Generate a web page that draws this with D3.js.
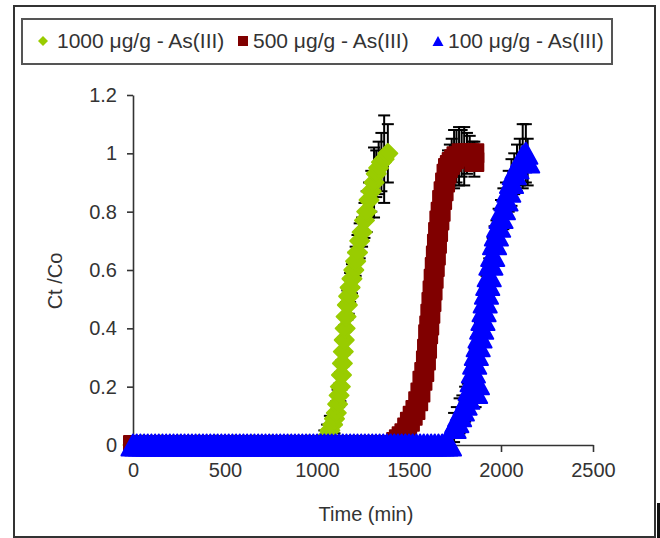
<!DOCTYPE html>
<html>
<head>
<meta charset="utf-8">
<script src="https://cdn.jsdelivr.net/npm/d3@7"></script>
<style>
  html, body { margin: 0; padding: 0; background: #fff; }
  svg { display: block; }
  text { font-family: "Liberation Sans", Arial, sans-serif; fill: #333; }
</style>
</head>
<body>
<svg id="chart" width="660" height="538"></svg>
<script>
// Axis ticks
const xTicks = [0, 500, 1000, 1500, 2000, 2500];
const yTicks = [0, 0.2, 0.4, 0.6, 0.8, 1, 1.2];
const yTickLabels = ["0", "0.2", "0.4", "0.6", "0.8", "1", "1.2"];

// Series labels and colours
const seriesNames = ["1000 μg/g - As(III)", "500 μg/g - As(III)", "100 μg/g - As(III)"];
const seriesColors = ["#99cc00", "#800000", "#0000ff"];

// 1000 µg/g breakthrough: time (min), Ct/Co, error
const time1000 = [0, 50, 100, 150, 200, 250, 300, 350, 400, 450, 500, 550, 600, 650, 700, 750, 800, 850, 900, 950, 1000,
  1040, 1055, 1070, 1085, 1095, 1105, 1112, 1120, 1127, 1133, 1138, 1143, 1148, 1153, 1158, 1165, 1172, 1180, 1190, 1200,
  1210, 1220, 1232, 1245, 1258, 1270, 1283, 1295, 1310, 1322, 1335, 1350, 1365, 1385];
const ctco1000 = [0, 0, 0, 0, 0, 0, 0, 0, 0, 0, 0, 0, 0, 0, 0, 0, 0, 0, 0, 0, 0,
  0.01, 0.03, 0.05, 0.07, 0.09, 0.11, 0.14, 0.17, 0.20, 0.24, 0.28, 0.32, 0.36, 0.40, 0.44, 0.48, 0.51, 0.54, 0.57, 0.60,
  0.63, 0.66, 0.70, 0.73, 0.77, 0.80, 0.84, 0.87, 0.90, 0.93, 0.95, 0.97, 0.98, 1.00];
const err1000 = [0, 0, 0, 0, 0, 0, 0, 0, 0, 0, 0, 0, 0, 0, 0, 0, 0, 0, 0, 0, 0,
  0.04, 0.04, 0.05, 0.04, 0.05, 0.04, 0.05, 0.04, 0.05, 0.05, 0.04, 0.05, 0.05, 0.04, 0.05, 0.05, 0.06, 0.05, 0.05, 0.06,
  0.05, 0.06, 0.06, 0.05, 0.06, 0.07, 0.06, 0.07, 0.12, 0.08, 0.09, 0.10, 0.15, 0.10];

// 500 µg/g breakthrough
const time500 = [0, 50, 100, 150, 200, 250, 300, 350, 400, 450, 500, 550, 600, 650, 700, 750, 800, 850, 900, 950, 1000,
  1050, 1100, 1150, 1200, 1250, 1300, 1350, 1400,
  1430, 1445, 1460, 1475, 1490, 1505, 1520, 1535, 1550, 1562, 1573, 1583, 1592, 1598, 1604, 1610, 1616, 1622, 1628, 1634,
  1640, 1646, 1652, 1658, 1665, 1672, 1680, 1688, 1696, 1704, 1712, 1722, 1732, 1745, 1758, 1772, 1786, 1800, 1815, 1830,
  1845, 1855, 1855];
const ctco500 = [0, 0, 0, 0, 0, 0, 0, 0, 0, 0, 0, 0, 0, 0, 0, 0, 0, 0, 0, 0, 0,
  0, 0, 0, 0, 0, 0, 0, 0,
  0.01, 0.02, 0.03, 0.04, 0.06, 0.08, 0.10, 0.12, 0.15, 0.18, 0.22, 0.25, 0.29, 0.33, 0.38, 0.41, 0.45, 0.49, 0.53, 0.57,
  0.61, 0.65, 0.69, 0.73, 0.77, 0.80, 0.84, 0.87, 0.90, 0.93, 0.95, 0.96, 0.97, 0.98, 0.99, 0.99, 1.00, 0.99, 1.00, 1.00,
  0.99, 0.97, 1.00];
const err500 = [0, 0, 0, 0, 0, 0, 0, 0, 0, 0, 0, 0, 0, 0, 0, 0, 0, 0, 0, 0, 0,
  0, 0, 0, 0, 0, 0, 0, 0,
  0.02, 0.02, 0.03, 0.03, 0.03, 0.03, 0.03, 0.03, 0.03, 0.03, 0.03, 0.03, 0.03, 0.03, 0.03, 0.03, 0.03, 0.03, 0.03, 0.03,
  0.03, 0.03, 0.03, 0.03, 0.03, 0.04, 0.04, 0.04, 0.05, 0.05, 0.06, 0.07, 0.08, 0.10, 0.09, 0.10, 0.08, 0.10, 0.07, 0.06,
  0.05, 0.05, 0.04];

// 100 µg/g breakthrough
const time100 = [0, 20, 40, 60, 80, 100, 120, 140, 160, 180,
  200, 220, 240, 260, 280, 300, 320, 340, 360, 380,
  400, 420, 440, 460, 480, 500, 520, 540, 560, 580,
  600, 620, 640, 660, 680, 700, 720, 740, 760, 780,
  800, 820, 840, 860, 880, 900, 920, 940, 960, 980,
  1000, 1020, 1040, 1060, 1080, 1100, 1120, 1140, 1160, 1180,
  1200, 1220, 1240, 1260, 1280, 1300, 1320, 1340, 1360, 1380,
  1400, 1420, 1440, 1460, 1480, 1500, 1520, 1540, 1560, 1580,
  1600, 1620, 1640, 1660, 1680, 1700, 1720,
  1745, 1760, 1775, 1790, 1805, 1820, 1832, 1843, 1850, 1857,
  1862, 1866, 1872, 1876, 1886, 1895, 1902, 1908, 1914, 1921,
  1928, 1936, 1945, 1955, 1965, 1975, 1987, 2000, 2013, 2027,
  2042, 2057, 2072, 2087, 2102, 2118, 2135, 2145];
const ctco100 = [0, 0, 0, 0, 0, 0, 0, 0, 0, 0,
  0, 0, 0, 0, 0, 0, 0, 0, 0, 0,
  0, 0, 0, 0, 0, 0, 0, 0, 0, 0,
  0, 0, 0, 0, 0, 0, 0, 0, 0, 0,
  0, 0, 0, 0, 0, 0, 0, 0, 0, 0,
  0, 0, 0, 0, 0, 0, 0, 0, 0, 0,
  0, 0, 0, 0, 0, 0, 0, 0, 0, 0,
  0, 0, 0, 0, 0, 0, 0, 0, 0, 0,
  0, 0, 0, 0, 0, 0, 0,
  0.06, 0.08, 0.10, 0.12, 0.14, 0.16, 0.19, 0.22, 0.25, 0.28,
  0.18, 0.31, 0.21, 0.34, 0.37, 0.40, 0.43, 0.46, 0.49, 0.52,
  0.55, 0.58, 0.62, 0.65, 0.69, 0.72, 0.75, 0.78, 0.81, 0.84,
  0.87, 0.90, 0.93, 0.95, 0.97, 0.99, 1.00, 0.97];
const err100 = [0, 0, 0, 0, 0, 0, 0, 0, 0, 0,
  0, 0, 0, 0, 0, 0, 0, 0, 0, 0,
  0, 0, 0, 0, 0, 0, 0, 0, 0, 0,
  0, 0, 0, 0, 0, 0, 0, 0, 0, 0,
  0, 0, 0, 0, 0, 0, 0, 0, 0, 0,
  0, 0, 0, 0, 0, 0, 0, 0, 0, 0,
  0, 0, 0, 0, 0, 0, 0, 0, 0, 0,
  0, 0, 0, 0, 0, 0, 0, 0, 0, 0,
  0, 0, 0, 0, 0, 0, 0,
  0.05, 0.05, 0.06, 0.05, 0.06, 0.05, 0.06, 0.05, 0.06, 0.05,
  0.05, 0.06, 0.05, 0.06, 0.05, 0.06, 0.05, 0.06, 0.05, 0.06,
  0.05, 0.06, 0.05, 0.06, 0.06, 0.05, 0.06, 0.06, 0.07, 0.06,
  0.07, 0.08, 0.07, 0.08, 0.08, 0.11, 0.10, 0.08];

const svg = d3.select("#chart");

// Outer frame
svg.append("rect")
  .attr("x", 14).attr("y", 6).attr("width", 641).attr("height", 531)
  .attr("fill", "#fff").attr("stroke", "#333").attr("stroke-width", 2);
svg.append("rect")
  .attr("x", 657).attr("y", 503).attr("width", 3).attr("height", 35)
  .attr("fill", "#111");

// Scales
const x = d3.scaleLinear().domain([0, 2500]).range([133, 593]);
const y = d3.scaleLinear().domain([0, 1.2]).range([445, 95]);

// Axes
const xAxis = svg.append("g")
  .attr("transform", `translate(0,${y(0)})`)
  .call(d3.axisBottom(x).tickValues(xTicks).tickFormat(d3.format("d")).tickSize(7).tickSizeOuter(0).tickPadding(11));
const yAxis = svg.append("g")
  .attr("transform", `translate(${x(0)},0)`)
  .call(d3.axisLeft(y).tickValues(yTicks).tickFormat((d, i) => yTickLabels[i]).tickSize(6).tickSizeOuter(0).tickPadding(10));
[xAxis, yAxis].forEach(g => {
  g.select(".domain").attr("stroke", "#333").attr("stroke-width", 1.6);
  g.selectAll(".tick line").attr("stroke", "#333").attr("stroke-width", 1.6);
  g.selectAll(".tick text").attr("font-size", 20).attr("fill", "#333")
    .style("font-family", '"Liberation Sans", Arial, sans-serif');
});

// Axis titles
svg.append("text")
  .attr("x", 366).attr("y", 521).attr("text-anchor", "middle")
  .attr("font-size", 20).text("Time (min)");
svg.append("text")
  .attr("transform", "translate(62,281) rotate(-90)")
  .attr("text-anchor", "middle").attr("font-size", 20).text("Ct /Co");

// Marker shapes
const shapes = {
  diamond: r => `M0,${-r}L${r},0L0,${r}L${-r},0Z`,
  square: r => `M${-r},${-r}H${r}V${r}H${-r}Z`,
  triangle: r => `M0,${-r}L${r * 1.1},${r}L${-r * 1.1},${r}Z`
};

const series = [
  { name: seriesNames[0], color: seriesColors[0], shape: "diamond", r: 9.5, t: time1000, v: ctco1000, e: err1000 },
  { name: seriesNames[1], color: seriesColors[1], shape: "square", r: 9, t: time500, v: ctco500, e: err500 },
  { name: seriesNames[2], color: seriesColors[2], shape: "triangle", r: 10.5, t: time100, v: ctco100, e: err100 }
];

const plot = svg.append("g");
series.forEach(s => {
  const pts = s.t.map((t, i) => ({ t, v: s.v[i], e: s.e[i] }));
  const g = plot.append("g");
  // error bars sit behind the markers
  const eb = g.append("g").attr("stroke", "#000").attr("stroke-width", 2)
    .selectAll("g").data(pts.filter(d => d.e > 0)).join("g");
  eb.append("line")
    .attr("x1", d => x(d.t)).attr("x2", d => x(d.t))
    .attr("y1", d => y(d.v + d.e)).attr("y2", d => y(d.v - d.e));
  eb.append("line")
    .attr("x1", d => x(d.t) - 6).attr("x2", d => x(d.t) + 6)
    .attr("y1", d => y(d.v + d.e)).attr("y2", d => y(d.v + d.e));
  eb.append("line")
    .attr("x1", d => x(d.t) - 6).attr("x2", d => x(d.t) + 6)
    .attr("y1", d => y(d.v - d.e)).attr("y2", d => y(d.v - d.e));
  g.append("g").selectAll("path").data(pts).join("path")
    .attr("transform", d => `translate(${x(d.t)},${y(d.v)})`)
    .attr("d", shapes[s.shape](s.r))
    .attr("fill", s.color)
    .attr("stroke", s.color).attr("stroke-width", 2).attr("stroke-linejoin", "round");
});

// Legend
const legend = svg.append("g");
legend.append("rect")
  .attr("x", 22).attr("y", 19).attr("width", 590).attr("height", 45)
  .attr("fill", "#fff").attr("stroke", "#555").attr("stroke-width", 2);
const legendX = [43, 243, 438];
const legendR = [5, 5, 5];
series.forEach((s, i) => {
  legend.append("path")
    .attr("transform", `translate(${legendX[i]},41)`)
    .attr("d", shapes[s.shape](legendR[i]))
    .attr("fill", s.color);
  legend.append("text")
    .attr("x", legendX[i] + (i === 0 ? 14 : 10)).attr("y", 48)
    .attr("font-size", 21).text(s.name);
});
</script>
</body>
</html>
